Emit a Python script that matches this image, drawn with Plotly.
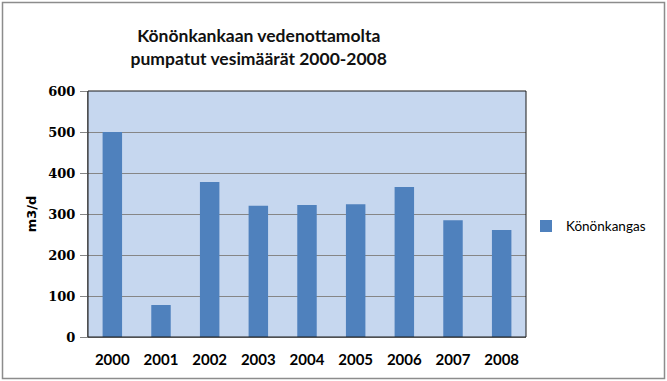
import plotly.graph_objects as go

years = ["2000", "2001", "2002", "2003", "2004", "2005", "2006", "2007", "2008"]
values = [500, 78, 378, 320, 322, 324, 366, 285, 261]
series_name = "Könönkangas"
title_lines = ["Könönkankaan vedenottamolta", "pumpatut vesimäärät 2000-2008"]
y_title = "m3/d"
y_ticks = [0, 100, 200, 300, 400, 500, 600]

W, H = 667, 381
L, R, T, B = 88, 141, 91, 44

fig = go.Figure()
fig.add_trace(go.Bar(
    x=years, y=values, name=series_name,
    marker=dict(color="#4F81BD", line=dict(width=0)),
    showlegend=True,
))

fig.update_layout(
    width=W, height=H,
    margin=dict(l=L, r=R, t=T, b=B, autoexpand=False),
    paper_bgcolor="white",
    plot_bgcolor="#C6D7EF",
    bargap=0.6,
    font=dict(family="Lato, 'Open Sans', sans-serif", color="black"),
    title=dict(
        text="<b>" + "<br>".join(title_lines) + "</b>",
        x=260 / W, xref="paper", xanchor="center",
        y=1 - 42 / H, yanchor="middle", yref="container",
        font=dict(size=17.5, family="Lato, sans-serif", color="#111111"),
    ),
    showlegend=True,
    legend=dict(
        x=1.0, xanchor="left", y=0.45, yanchor="middle",
        font=dict(size=13.5, family="Lato, 'Open Sans', sans-serif", color="black"),
        itemwidth=30, bgcolor="rgba(0,0,0,0)",
    ),
    xaxis=dict(
        type="category",
        showline=True, linecolor="#868686", linewidth=1,
        tickfont=dict(size=15, family="Lato, sans-serif", color="black", weight="bold"),
        ticks="", showgrid=False, ticklabelstandoff=9,
    ),
    yaxis=dict(
        range=[0, 600], tickvals=y_ticks,
        showline=True, linecolor="#868686", linewidth=1,
        gridcolor="#868686", gridwidth=1,
        ticks="outside", ticklen=7, tickcolor="#868686",
        tickfont=dict(size=13, family="'DejaVu Serif', serif", color="black", weight="bold"),
        ticklabelstandoff=2,
        zeroline=False,
        title=dict(text="<b>" + y_title + "</b>", standoff=8,
                   font=dict(size=13, family="'DejaVu Sans', sans-serif", color="black")),
    ),
)

# plot area border (top/right dark)
fig.add_shape(type="rect", xref="paper", yref="paper", x0=0, x1=1, y0=0, y1=1,
              line=dict(color="#1a1a1a", width=1), fillcolor="rgba(0,0,0,0)", layer="above")
# chart outer border
fig.add_shape(type="rect", xref="paper", yref="paper",
              x0=-(L - 2.5) / (W - L - R), x1=1 + (R - 2.5) / (W - L - R),
              y0=-(B - 2.5) / (H - T - B), y1=1 + (T - 2.5) / (H - T - B),
              line=dict(color="#8c8c8c", width=1.5), fillcolor="rgba(0,0,0,0)")

fig.write_html("out.html")
